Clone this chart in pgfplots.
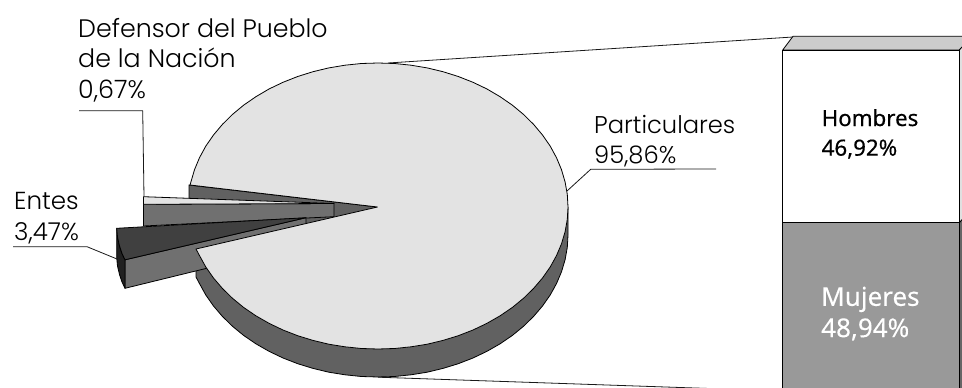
\documentclass[border=0pt]{standalone}
\usepackage{pgfplots}
\pgfplotsset{compat=1.18}
\usepackage{fontspec}
\setmainfont{Poppins Light}
\newfontfamily\barfont[FakeBold=0.15]{Noto Sans}
\newfontfamily\barbold[FakeBold=0.4]{Noto Sans}
\definecolor{facelight}{gray}{0.89}
\definecolor{wallmid}{gray}{0.44}
\definecolor{walldark}{gray}{0.38}
\definecolor{entesface}{gray}{0.25}
\definecolor{entesrim}{gray}{0.13}
\tikzset{pielabel/.style={anchor=base west, inner sep=0pt, font=\fontsize{#1}{#1}\selectfont, text=black}}
\begin{document}
\begin{tikzpicture}
% Exploded pie, laid out in a 962 by 388 unit frame with y running downward
\begin{axis}[
  at={(0,0)}, anchor=south west,
  scale only axis, width=962pt, height=388pt,
  xmin=0, xmax=962, ymin=0, ymax=388, y dir=reverse,
  hide axis, no markers,
  every axis plot/.append style={line width=0.8pt, draw=black, line join=round},
]
% Outer rim of the large slice
\addplot[fill=walldark] coordinates {
 (568,207)(568,235)(567.3,247.4)(565.1,259.7)(561.5,271.8)(556.5,283.6)(550.2,295)(542.5,306)
 (533.6,316.4)(523.5,326.3)(512.4,335.4)(500.1,343.8)(487,351.3)(473,358)(458.3,363.7)(443,368.4)
 (427.2,372.2)(411,374.8)(394.6,376.5)(378,377)(361.4,376.5)(345,374.8)(328.8,372.2)(313,368.4)
 (297.7,363.7)(283,358)(269,351.3)(255.9,343.8)(243.6,335.4)(232.5,326.3)(222.4,316.4)(213.5,306)
 (205.8,295)(199.5,283.6)(196,277)(196,249)(378,207)} --cycle;
% Inner cut wall of the large slice
\addplot[fill=walldark] coordinates {(377.5,207)(189,185)(189,213)(377.5,235)} --cycle;
% Defensor del Pueblo slice: side wall, then top face
\addplot[fill=wallmid] coordinates {(143.5,204.3)(143.5,226)(334,216.7)(334,203.5)} --cycle;
\addplot[fill=facelight] coordinates {(143.5,196.7)(143.5,204.3)(334,203.5)} --cycle;
% Entes slice: side wall, rim and top face
\addplot[fill=wallmid] coordinates {(125,259.8)(125,288.3)(306,244)(306,217.7)} --cycle;
\addplot[fill=entesrim] coordinates {(116.7,228.3)(117.5,237)(119.5,246)(122,253.5)(125,259.8)(125,288.3)(122,282)(119.5,274.5)(117.5,266)(116.7,257.5)} --cycle;
\addplot[fill=entesface] coordinates {(116.7,228.3)(117.5,237)(119.5,246)(122,253.5)(125,259.8)(306,217.7)} --cycle;
% Top face of the large slice
\addplot[fill=facelight] coordinates {
 (377.5,207)(190,185)(190.9,182)(194.5,169.7)(199.5,157.7)(205.8,146.1)(213.5,135)(222.4,124.4)
 (232.5,114.4)(243.6,105.2)(255.9,96.7)(269,89)(283,82.3)(297.7,76.5)(313,71.7)(328.8,67.9)
 (345,65.2)(361.4,63.5)(378,63)(394.6,63.5)(411,65.2)(427.2,67.9)(443,71.7)(458.3,76.5)
 (473,82.3)(487,89)(500.1,96.7)(512.4,105.2)(523.5,114.4)(533.6,124.4)(542.5,135)(550.2,146.1)
 (556.5,157.7)(561.5,169.7)(565.1,182)(567.3,194.4)(568,207)
 (567.3,219.4)(565.1,231.7)(561.5,243.8)(556.5,255.6)(550.2,267)(542.5,278)(533.6,288.4)(523.5,298.3)
 (512.4,307.4)(500.1,315.8)(487,323.3)(473,330)(458.3,335.7)(443,340.4)(427.2,344.2)(411,346.8)
 (394.6,348.5)(378,349)(361.4,348.5)(345,346.8)(328.8,344.2)(313,340.4)(297.7,335.7)(283,330)
 (269,323.3)(255.9,315.8)(243.6,307.4)(232.5,298.3)(222.4,288.4)(213.5,278)(205.8,267)(199.5,255.6)(196,249)} --cycle;
% Label leaders and the two lines that join the pie to the column
\addplot[line width=0.8pt, draw=black!90] coordinates {(79,110.7)(142.7,110.7)(144,196.7)};
\addplot[line width=0.8pt, draw=black!90] coordinates {(567,191)(590.7,169.3)(716,169)};
\addplot[line width=0.8pt, draw=black!90] coordinates {(13,246.7)(87,246.7)(117,259)};
\addplot[line width=0.8pt, draw=black!90] coordinates {(388,63)(793,37)};
\addplot[line width=0.8pt, draw=black!90] coordinates {(378,377.2)(783,391)};
% Labels
\node[pielabel=25.3] at (axis cs:78,37) {Defensor del Pueblo};
\node[pielabel=25.3] at (axis cs:78,67) {de la Nación};
\node[pielabel=25.3] at (axis cs:78,98) {0,67\%};
\node[pielabel=24.2] at (axis cs:594,133) {Particulares};
\node[pielabel=24.2] at (axis cs:594,163.5) {95,86\%};
\node[pielabel=24.6] at (axis cs:14,209) {Entes};
\node[pielabel=24.6] at (axis cs:14,240) {3,47\%};
\end{axis}
% Stacked column: y is the percentage of each group, read from the column's top edge
\begin{axis}[
  at={(0,0)}, anchor=south west,
  scale only axis, width=962pt, height=388pt,
  xmin=0, xmax=962, ymin=-13.583, ymax=91.82, y dir=reverse,
  hide axis, no markers,
  every axis plot/.append style={line width=0.8pt, draw=black, line join=round},
]
\addplot[fill=black!20] coordinates {(782.7,0)(793,-3.72)(972,-3.72)(959.3,0)} --cycle;
\addplot[fill=black!12] coordinates {(959.3,0)(972,-3.72)(972,43.2)(959.3,46.92)} --cycle;
\addplot[fill=black!60] coordinates {(959.3,46.92)(972,43.2)(972,92.14)(959.3,95.86)} --cycle;
\addplot[fill=white] coordinates {(782.7,0)(959.3,0)(959.3,46.92)(782.7,46.92)} --cycle;
\addplot[fill=black!40] coordinates {(782.7,46.92)(959.3,46.92)(959.3,95.86)(782.7,95.86)} --cycle;
\node[anchor=base west, inner sep=0pt, font=\barbold\fontsize{22.3}{22}\selectfont, text=black] at (axis cs:821.5,20.65) {Hombres};
\node[anchor=base west, inner sep=0pt, font=\barbold\fontsize{22.3}{22}\selectfont, text=black] at (axis cs:821.5,28.7) {46,92\%};
\node[anchor=base west, inner sep=0pt, font=\barfont\fontsize{26}{26}\selectfont, text=white] at (axis cs:821,69.5) {Mujeres};
\node[anchor=base west, inner sep=0pt, font=\barfont\fontsize{26}{26}\selectfont, text=white] at (axis cs:821,78) {48,94\%};
\end{axis}
% Page frame: the parts of the column running past the plot area stay out of it
\pgfresetboundingbox
\path[use as bounding box] (0,0) rectangle (962pt,388pt);
\end{tikzpicture}
\end{document}
